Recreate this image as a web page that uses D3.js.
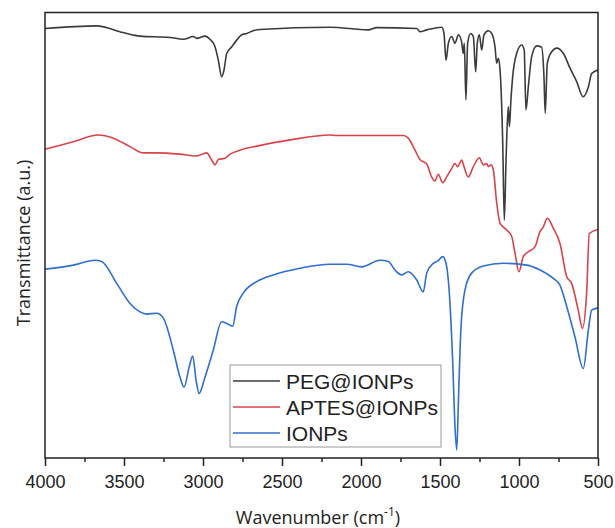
<!DOCTYPE html>
<html>
<head>
<meta charset="utf-8">
<script src="https://cdn.jsdelivr.net/npm/d3@7"></script>
<style>
  body { margin: 0; background: #fff; }
  .tick text { font-family: "Liberation Sans", Arial, sans-serif; font-size: 18px; fill: #222; }
  .axisLabel { font-family: "Open Sans", sans-serif; font-size: 18px; fill: #222; }
  .legendText { font-family: "Liberation Sans", Arial, sans-serif; font-size: 21px; fill: #222; }
</style>
</head>
<body>
<div id="plotdiv"></div>
<script>
// Series names and colours
const seriesNames = ["PEG@IONPs", "APTES@IONPs", "IONPs"];
const seriesColors = ["#3b3b3b", "#d9434a", "#2f6fcf"];

// PEG@IONPs: wavenumber (cm-1), transmittance (a.u.)
const pegWn = [4000, 3673, 3506, 3399, 3209, 3125, 3061, 3040, 2987, 2956, 2924, 2903, 2882, 2867, 2850, 2818, 2787, 2755, 2723, 2682, 2639, 2196, 1954, 1901, 1648, 1627, 1584, 1489, 1475, 1462, 1447, 1426, 1405, 1384, 1363, 1353, 1346, 1336, 1325, 1306, 1289, 1274, 1264, 1251, 1236, 1222, 1194, 1173, 1152, 1141, 1131, 1120, 1103, 1093, 1082, 1068, 1061, 1051, 1040, 1015, 983, 967, 956, 941, 920, 888, 857, 842, 834, 821, 793, 761, 719, 677, 635, 595, 561, 540, 500];
const pegT = [96.4, 97.0, 95.5, 94.7, 94.4, 94.0, 94.6, 94.2, 94.7, 94.0, 92.3, 89.3, 85.6, 87.1, 90.8, 92.3, 93.8, 95.0, 95.3, 95.9, 96.2, 96.7, 96.1, 96.6, 96.4, 95.7, 96.1, 96.7, 95.4, 89.3, 93.1, 94.6, 93.1, 95.0, 93.4, 90.8, 93.1, 80.4, 93.1, 95.3, 94.6, 86.7, 93.1, 95.0, 91.6, 95.0, 95.9, 95.3, 92.3, 88.6, 89.7, 87.1, 70.7, 53.4, 66.9, 78.9, 74.4, 80.4, 85.6, 90.8, 92.7, 91.6, 78.1, 83.3, 90.1, 92.5, 92.2, 85.6, 77.4, 88.6, 91.2, 92.0, 90.8, 87.5, 84.5, 81.1, 83.3, 86.3, 87.1];

// APTES@IONPs
const aptesWn = [4000, 3821, 3663, 3568, 3462, 3378, 3293, 3146, 3040, 2977, 2945, 2924, 2903, 2861, 2829, 2766, 2660, 2449, 2196, 2154, 1732, 1701, 1658, 1627, 1584, 1553, 1532, 1511, 1483, 1458, 1426, 1405, 1388, 1363, 1348, 1321, 1289, 1251, 1226, 1205, 1194, 1177, 1162, 1141, 1120, 1078, 1046, 1025, 1000, 973, 941, 899, 867, 846, 821, 783, 741, 698, 667, 625, 599, 572, 555, 500];
const aptesT = [69.3, 71.0, 72.5, 71.8, 69.9, 68.5, 68.5, 68.2, 67.8, 68.5, 66.9, 65.8, 67.0, 67.3, 68.2, 69.1, 70.0, 71.4, 72.5, 72.4, 72.4, 71.8, 69.1, 67.0, 66.0, 63.1, 62.2, 63.7, 61.8, 63.1, 65.0, 66.1, 65.4, 66.9, 65.4, 63.1, 65.4, 67.4, 65.8, 66.1, 65.4, 65.8, 64.6, 57.2, 52.7, 51.2, 49.7, 45.9, 41.8, 45.2, 46.3, 47.4, 50.8, 51.9, 53.8, 51.6, 48.2, 40.7, 39.2, 33.2, 29.1, 37.0, 50.4, 51.3];

// IONPs
const ionpsWn = [4000, 3821, 3684, 3641, 3546, 3462, 3399, 3357, 3293, 3251, 3188, 3146, 3120, 3087, 3065, 3044, 3025, 2987, 2935, 2882, 2850, 2812, 2787, 2745, 2660, 2555, 2386, 2196, 2090, 1996, 1880, 1827, 1785, 1742, 1701, 1648, 1606, 1584, 1542, 1511, 1483, 1462, 1441, 1420, 1405, 1394, 1382, 1367, 1342, 1300, 1226, 1099, 952, 867, 783, 741, 698, 646, 593, 561, 540, 500];
const ionpsT = [42.4, 43.3, 44.4, 44.1, 39.2, 34.7, 32.8, 32.3, 32.5, 31.4, 24.2, 18.2, 15.9, 20.5, 22.9, 17.5, 14.5, 18.2, 24.2, 30.6, 30.2, 29.6, 34.0, 37.0, 39.6, 41.1, 42.6, 43.5, 43.5, 42.9, 44.4, 44.1, 42.2, 41.1, 41.8, 40.0, 37.3, 41.5, 43.7, 44.3, 45.2, 43.7, 37.0, 22.0, 7.0, 1.8, 14.5, 29.5, 37.7, 41.5, 43.1, 43.7, 43.3, 42.2, 40.3, 38.8, 34.0, 27.2, 20.1, 28.7, 33.2, 33.7];

// X axis ticks
const majorTicks = [4000, 3500, 3000, 2500, 2000, 1500, 1000, 500];
const minorTicks = [3750, 3250, 2750, 2250, 1750, 1250, 750];

const plotLeft = 45, plotRight = 598, plotTop = 12.5, plotBottom = 458;

const svg = d3.select('#plotdiv').append('svg')
  .attr('width', 615)
  .attr('height', 528);

const xScale = d3.scaleLinear().domain([4000, 500]).range([plotLeft, plotRight]);
const yScale = d3.scaleLinear().domain([0, 100]).range([plotBottom, plotTop]);

// minor ticks
svg.append('g')
  .attr('transform', `translate(0, ${plotBottom})`)
  .call(d3.axisBottom(xScale).tickValues(minorTicks).tickSize(4).tickFormat(''))
  .call(g => g.select('.domain').remove())
  .call(g => g.selectAll('line').attr('stroke', '#222').attr('stroke-width', 1.5));

// major ticks
svg.append('g')
  .attr('transform', `translate(0, ${plotBottom})`)
  .call(d3.axisBottom(xScale).tickValues(majorTicks).tickSize(8).tickPadding(9).tickFormat(d3.format('d')))
  .call(g => g.select('.domain').remove())
  .call(g => g.selectAll('line').attr('stroke', '#222').attr('stroke-width', 1.5));

// lines
const series = [
  pegWn.map((w, i) => ({ wn: w, t: pegT[i] })),
  aptesWn.map((w, i) => ({ wn: w, t: aptesT[i] })),
  ionpsWn.map((w, i) => ({ wn: w, t: ionpsT[i] }))
];

const line = d3.line()
  .x(d => xScale(d.wn))
  .y(d => yScale(d.t))
  .curve(d3.curveMonotoneX);

svg.append('g').selectAll('path')
  .data(series)
  .enter().append('path')
  .attr('d', line)
  .attr('fill', 'none')
  .attr('stroke', (d, i) => seriesColors[i])
  .attr('stroke-width', 1.6)
  .attr('stroke-linejoin', 'round');

// frame
svg.append('rect')
  .attr('x', plotLeft).attr('y', plotTop)
  .attr('width', plotRight - plotLeft).attr('height', plotBottom - plotTop)
  .attr('fill', 'none')
  .attr('stroke', '#222')
  .attr('stroke-width', 1.5);

// legend
const legend = svg.append('g').attr('transform', 'translate(230, 365)');
legend.append('rect')
  .attr('width', 211).attr('height', 82)
  .attr('fill', '#fff')
  .attr('stroke', '#999')
  .attr('stroke-width', 1);
seriesNames.forEach((name, i) => {
  const yy = 16 + i * 26;
  legend.append('line')
    .attr('x1', 3).attr('x2', 50)
    .attr('y1', yy).attr('y2', yy)
    .attr('stroke', seriesColors[i])
    .attr('stroke-width', 1.6);
  legend.append('text')
    .attr('class', 'legendText')
    .attr('x', 56).attr('y', yy)
    .attr('dy', '0.36em')
    .text(name);
});

// axis labels
const xlab = svg.append('text')
  .attr('class', 'axisLabel')
  .attr('text-anchor', 'middle')
  .attr('x', 318)
  .attr('y', 524);
xlab.append('tspan').text('Wavenumber (cm');
xlab.append('tspan').attr('dy', -8).attr('font-size', 12).text('-1');
xlab.append('tspan').attr('dy', 8).text(')');

svg.append('text')
  .attr('class', 'axisLabel')
  .attr('text-anchor', 'middle')
  .attr('transform', 'rotate(-90)')
  .attr('x', -243)
  .attr('y', 30)
  .text('Transmittance (a.u.)');
</script>
</body>
</html>
